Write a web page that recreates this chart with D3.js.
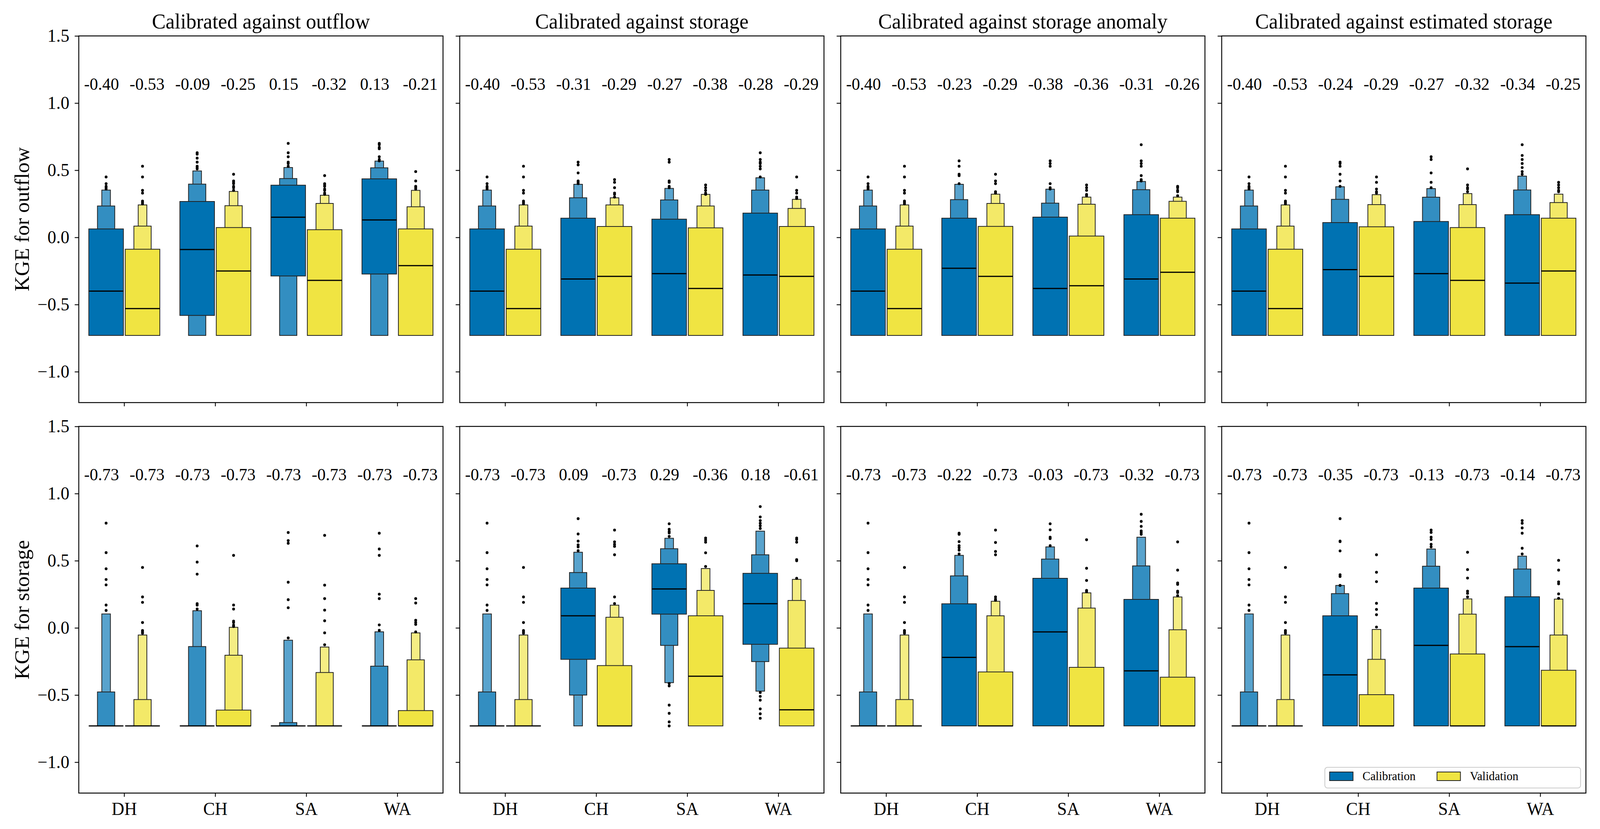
<!DOCTYPE html>
<html>
<head>
<meta charset="utf-8">
<script src="https://cdn.jsdelivr.net/npm/d3@7"></script>
<style>
  html, body { margin: 0; padding: 0; background: #fff; overflow: hidden; width: 100%; height: 100%; }
  #chart { width: 100vw; height: 100vh; }
  svg { display: block; font-family: "Liberation Serif", "Times New Roman", serif; }
</style>
</head>
<body>
<div id="chart"></div>
<script>
// Categories and labels
const regions = ["DH", "CH", "SA", "WA"];
const phases = ["Calibration", "Validation"];
const panelTitles = [
    "Calibrated against outflow",
    "Calibrated against storage",
    "Calibrated against storage anomaly",
    "Calibrated against estimated storage"
];
const rowLabels = ["KGE for outflow", "KGE for storage"];
const yTicks = [-1.0, -0.5, 0.0, 0.5, 1.0, 1.5];

// Letter values per box: [median, q25, q75, q12.5, q87.5, q6.25, q93.75]
// order: DH-cal, DH-val, CH-cal, CH-val, SA-cal, SA-val, WA-cal, WA-val

// KGE for outflow
const outflowVsOutflow = [
    [-0.40, -0.73, 0.063, -0.73, 0.234, -0.73, 0.352],
    [-0.53, -0.73, -0.088, -0.73, 0.084, -0.73, 0.242],
    [-0.09, -0.581, 0.267, -0.73, 0.397, -0.73, 0.495],
    [-0.25, -0.73, 0.073, -0.73, 0.236, -0.73, 0.342],
    [0.15, -0.287, 0.389, -0.73, 0.438, -0.73, 0.520],
    [-0.32, -0.73, 0.057, -0.73, 0.253, -0.73, 0.314],
    [0.13, -0.273, 0.436, -0.73, 0.518, -0.73, 0.568],
    [-0.21, -0.73, 0.063, -0.73, 0.228, -0.73, 0.350]
];
const outflowVsStorage = [
    [-0.40, -0.73, 0.063, -0.73, 0.234, -0.73, 0.352],
    [-0.53, -0.73, -0.088, -0.73, 0.084, -0.73, 0.242],
    [-0.31, -0.73, 0.143, -0.73, 0.295, -0.73, 0.395],
    [-0.29, -0.73, 0.081, -0.73, 0.242, -0.73, 0.295],
    [-0.27, -0.73, 0.136, -0.73, 0.279, -0.73, 0.365],
    [-0.38, -0.73, 0.071, -0.73, 0.234, -0.73, 0.320],
    [-0.28, -0.73, 0.181, -0.73, 0.352, -0.73, 0.444],
    [-0.29, -0.73, 0.081, -0.73, 0.216, -0.73, 0.283]
];
const outflowVsAnomaly = [
    [-0.40, -0.73, 0.063, -0.73, 0.234, -0.73, 0.352],
    [-0.53, -0.73, -0.088, -0.73, 0.084, -0.73, 0.242],
    [-0.23, -0.73, 0.143, -0.73, 0.281, -0.73, 0.395],
    [-0.29, -0.73, 0.082, -0.73, 0.253, -0.73, 0.322],
    [-0.38, -0.73, 0.151, -0.73, 0.255, -0.73, 0.359],
    [-0.36, -0.73, 0.010, -0.73, 0.247, -0.73, 0.300],
    [-0.31, -0.73, 0.169, -0.73, 0.355, -0.73, 0.416],
    [-0.26, -0.73, 0.143, -0.73, 0.269, -0.73, 0.300]
];
const outflowVsEstimated = [
    [-0.40, -0.73, 0.063, -0.73, 0.234, -0.73, 0.352],
    [-0.53, -0.73, -0.088, -0.73, 0.084, -0.73, 0.242],
    [-0.24, -0.73, 0.110, -0.73, 0.283, -0.73, 0.377],
    [-0.29, -0.73, 0.079, -0.73, 0.244, -0.73, 0.318],
    [-0.27, -0.73, 0.118, -0.73, 0.299, -0.73, 0.363],
    [-0.32, -0.73, 0.073, -0.73, 0.244, -0.73, 0.326],
    [-0.34, -0.73, 0.169, -0.73, 0.353, -0.73, 0.456],
    [-0.25, -0.73, 0.143, -0.73, 0.259, -0.73, 0.322]
];

// KGE for storage
const storageVsOutflow = [
    [-0.73, -0.73, -0.73, -0.73, -0.477, -0.73, 0.104],
    [-0.73, -0.73, -0.73, -0.73, -0.534, -0.73, -0.053],
    [-0.73, -0.73, -0.73, -0.73, -0.139, -0.73, 0.128],
    [-0.73, -0.73, -0.612, -0.73, -0.204, -0.73, 0.004],
    [-0.73, -0.73, -0.73, -0.73, -0.705, -0.73, -0.092],
    [-0.73, -0.73, -0.73, -0.73, -0.332, -0.73, -0.143],
    [-0.73, -0.73, -0.73, -0.73, -0.285, -0.73, -0.029],
    [-0.73, -0.73, -0.616, -0.73, -0.238, -0.73, -0.037]
];
const storageVsStorage = [
    [-0.73, -0.73, -0.73, -0.73, -0.477, -0.73, 0.104],
    [-0.73, -0.73, -0.73, -0.73, -0.534, -0.73, -0.053],
    [0.09, -0.234, 0.296, -0.50, 0.412, -0.73, 0.563],
    [-0.73, -0.73, -0.281, -0.73, 0.079, -0.73, 0.169],
    [0.29, 0.102, 0.477, -0.130, 0.589, -0.408, 0.667],
    [-0.36, -0.73, 0.090, -0.73, 0.279, -0.73, 0.442],
    [0.18, -0.122, 0.406, -0.251, 0.544, -0.471, 0.720],
    [-0.61, -0.73, -0.151, -0.73, 0.204, -0.73, 0.361]
];
const storageVsAnomaly = [
    [-0.73, -0.73, -0.73, -0.73, -0.477, -0.73, 0.104],
    [-0.73, -0.73, -0.73, -0.73, -0.534, -0.73, -0.053],
    [-0.22, -0.73, 0.179, -0.73, 0.387, -0.73, 0.540],
    [-0.73, -0.73, -0.328, -0.73, 0.090, -0.73, 0.198],
    [-0.03, -0.73, 0.369, -0.73, 0.512, -0.73, 0.603],
    [-0.73, -0.73, -0.294, -0.73, 0.147, -0.73, 0.261],
    [-0.32, -0.73, 0.212, -0.73, 0.461, -0.73, 0.675],
    [-0.73, -0.73, -0.367, -0.73, -0.014, -0.73, 0.230]
];
const storageVsEstimated = [
    [-0.73, -0.73, -0.73, -0.73, -0.477, -0.73, 0.104],
    [-0.73, -0.73, -0.73, -0.73, -0.534, -0.73, -0.053],
    [-0.35, -0.73, 0.090, -0.73, 0.255, -0.73, 0.316],
    [-0.73, -0.73, -0.497, -0.73, -0.234, -0.73, -0.012],
    [-0.13, -0.73, 0.296, -0.73, 0.459, -0.73, 0.587],
    [-0.73, -0.73, -0.194, -0.73, 0.102, -0.73, 0.216],
    [-0.14, -0.73, 0.232, -0.73, 0.438, -0.73, 0.534],
    [-0.73, -0.73, -0.316, -0.73, -0.053, -0.73, 0.214]
];

// Outliers beyond the last letter value, same box order
const outflowVsOutflowFliers = [
    [0.36, 0.37, 0.38, 0.40, 0.45],
    [0.25, 0.26, 0.27, 0.33, 0.35, 0.45, 0.53],
    [0.51, 0.52, 0.53, 0.56, 0.59, 0.62, 0.63],
    [0.35, 0.37, 0.38, 0.40, 0.41, 0.42, 0.47],
    [0.53, 0.55, 0.56, 0.60, 0.63, 0.70],
    [0.32, 0.33, 0.35, 0.36, 0.38, 0.39, 0.40, 0.46],
    [0.57, 0.58, 0.60, 0.66, 0.67, 0.69, 0.70],
    [0.36, 0.37, 0.38, 0.42, 0.49]
];
const outflowVsStorageFliers = [
    [0.36, 0.37, 0.38, 0.40, 0.45],
    [0.25, 0.26, 0.27, 0.33, 0.35, 0.45, 0.53],
    [0.40, 0.41, 0.42, 0.48, 0.54, 0.56],
    [0.30, 0.32, 0.33, 0.37, 0.41, 0.43],
    [0.37, 0.38, 0.41, 0.42, 0.56, 0.58],
    [0.32, 0.33, 0.35, 0.37, 0.39],
    [0.45, 0.51, 0.53, 0.55, 0.56, 0.58, 0.63],
    [0.29, 0.30, 0.33, 0.35, 0.45]
];
const outflowVsAnomalyFliers = [
    [0.36, 0.37, 0.38, 0.40, 0.45],
    [0.25, 0.26, 0.27, 0.33, 0.35, 0.45, 0.53],
    [0.40, 0.46, 0.47, 0.53, 0.57],
    [0.33, 0.34, 0.40, 0.42, 0.47],
    [0.36, 0.37, 0.40, 0.53, 0.55, 0.57],
    [0.31, 0.32, 0.35, 0.37, 0.39],
    [0.42, 0.43, 0.46, 0.53, 0.55, 0.57, 0.69],
    [0.31, 0.34, 0.35, 0.37, 0.38]
];
const outflowVsEstimatedFliers = [
    [0.36, 0.37, 0.38, 0.40, 0.45],
    [0.25, 0.26, 0.27, 0.33, 0.35, 0.45, 0.53],
    [0.38, 0.42, 0.47, 0.53, 0.55, 0.56],
    [0.33, 0.34, 0.36, 0.41, 0.45],
    [0.37, 0.41, 0.48, 0.58, 0.60],
    [0.34, 0.36, 0.37, 0.39, 0.51],
    [0.47, 0.49, 0.52, 0.55, 0.58, 0.61, 0.69],
    [0.34, 0.35, 0.37, 0.39, 0.41]
];
const storageDHFliersCal = [0.13, 0.17, 0.32, 0.36, 0.44, 0.56, 0.78];
const storageDHFliersVal = [-0.04, -0.03, -0.02, 0.04, 0.19, 0.23, 0.45];
const storageVsOutflowFliers = [
    storageDHFliersCal,
    storageDHFliersVal,
    [0.14, 0.17, 0.18, 0.40, 0.49, 0.61],
    [0.01, 0.02, 0.04, 0.05, 0.14, 0.17, 0.54],
    [-0.075, 0.15, 0.21, 0.34, 0.63, 0.65, 0.71],
    [-0.126, -0.037, 0.053, 0.132, 0.218, 0.318, 0.689],
    [-0.018, 0.022, 0.218, 0.251, 0.54, 0.587, 0.705],
    [-0.03, 0.026, 0.041, 0.057, 0.185, 0.218]
];
const storageVsStorageFliers = [
    storageDHFliersCal,
    storageDHFliersVal,
    [0.575, 0.603, 0.618, 0.646, 0.699, 0.813],
    [0.181, 0.23, 0.544, 0.607, 0.622, 0.64, 0.728],
    [0.681, 0.707, 0.718, 0.734, 0.775, -0.414, -0.432, -0.575, -0.636, -0.70, -0.73],
    [0.457, 0.559, 0.638, 0.654, 0.669],
    [0.74, 0.76, 0.779, 0.799, 0.826, 0.903, -0.481, -0.51, -0.538, -0.603, -0.64, -0.673],
    [0.369, 0.50, 0.508, 0.638, 0.658, 0.669]
];
const storageVsAnomalyFliers = [
    storageDHFliersCal,
    storageDHFliersVal,
    [0.55, 0.579, 0.597, 0.612, 0.642, 0.697, 0.705],
    [0.205, 0.214, 0.23, 0.544, 0.569, 0.636, 0.728],
    [0.612, 0.665, 0.675, 0.73, 0.775],
    [0.269, 0.279, 0.353, 0.444, 0.656],
    [0.697, 0.71, 0.722, 0.756, 0.793, 0.846],
    [0.24, 0.263, 0.273, 0.324, 0.334, 0.43, 0.64]
];
const storageVsEstimatedFliers = [
    storageDHFliersCal,
    storageDHFliersVal,
    [0.316, 0.383, 0.395, 0.573, 0.642, 0.646, 0.813],
    [0.006, 0.098, 0.137, 0.183, 0.344, 0.414, 0.544],
    [0.603, 0.622, 0.658, 0.675, 0.711, 0.728],
    [0.23, 0.257, 0.273, 0.371, 0.434, 0.563],
    [0.55, 0.593, 0.705, 0.744, 0.779, 0.799],
    [0.22, 0.253, 0.328, 0.342, 0.43, 0.503]
];

const panelData = [
    [outflowVsOutflow, outflowVsStorage, outflowVsAnomaly, outflowVsEstimated],
    [storageVsOutflow, storageVsStorage, storageVsAnomaly, storageVsEstimated]
];
const panelFliers = [
    [outflowVsOutflowFliers, outflowVsStorageFliers, outflowVsAnomalyFliers, outflowVsEstimatedFliers],
    [storageVsOutflowFliers, storageVsStorageFliers, storageVsAnomalyFliers, storageVsEstimatedFliers]
];

// Layout (drawn in a 4204 x 2123 coordinate system, scaled to the window)
const W = 4204, H = 2123;
const pLeft = 207, pTop = 92, pW = 957, pH = 939, colStep = 1001, rowStep = 1000;
const font = '"Liberation Serif", "Times New Roman", serif';

// Colours: main colour per phase, outer letter values blended toward white
const baseColors = ["#0072B2", "#F0E442"];
const levelColor = (c, k) => d3.interpolateRgb(c, "#ffffff")([0, 0.2, 0.35][k]);

const svg = d3.select("#chart")
    .append("svg")
    .attr("viewBox", `0 0 ${W} ${H}`)
    .attr("preserveAspectRatio", "none")
    .attr("width", "100%")
    .attr("height", "100%");

const y = d3.scaleLinear().domain([-1.23, 1.5]).range([pH, 0]);
const x = d3.scaleBand().domain(regions).range([0, pW]).padding(0);
const bw = x.bandwidth();
const boxW = 0.38 * bw;
const yFmt = d3.format(".1f");

function rectPath(cx, w, lo, hi) {
    const x0 = cx - w / 2, y0 = y(hi), y1 = y(lo);
    return `M${x0},${y0}H${x0 + w}V${y1}H${x0}Z`;
}

panelData.forEach((row, r) => {
    row.forEach((boxes, c) => {
        const g = svg.append("g")
            .attr("transform", `translate(${pLeft + c * colStep},${pTop + r * rowStep})`);

        // y axis ticks
        const ya = g.append("g")
            .call(d3.axisLeft(y).tickValues(yTicks).tickSize(10.7).tickPadding(14)
                .tickFormat(c === 0 ? yFmt : ""));
        // x axis ticks
        const xa = g.append("g")
            .attr("transform", `translate(0,${pH})`)
            .call(d3.axisBottom(x).tickSize(9.5).tickPadding(14)
                .tickFormat(r === 1 ? d => d : ""));
        [ya, xa].forEach(a => {
            a.select(".domain").remove();
            a.selectAll(".tick line").attr("stroke", "#000").attr("stroke-width", 2.2);
            a.selectAll(".tick text").attr("fill", "#000")
                .style("font-family", font).style("font-size", "46px");
        });

        boxes.forEach((v, i) => {
            const region = regions[Math.floor(i / 2)];
            const p = i % 2;
            const cx = x(region) + bw / 2 + (p === 0 ? -0.2 : 0.2) * bw;

            // outer levels first so inner boxes sit on top
            [2, 1, 0].forEach(k => {
                g.append("path")
                    .attr("d", rectPath(cx, boxW / Math.pow(2, k), v[1 + 2 * k], v[2 + 2 * k]))
                    .attr("fill", levelColor(baseColors[p], k))
                    .attr("stroke", "#222")
                    .attr("stroke-width", 2);
            });

            // median
            g.append("line")
                .attr("x1", cx - boxW / 2).attr("x2", cx + boxW / 2)
                .attr("y1", y(v[0])).attr("y2", y(v[0]))
                .attr("stroke", "#000").attr("stroke-width", 3);

            // outliers
            g.selectAll(null)
                .data(panelFliers[r][c][i])
                .enter()
                .append("circle")
                .attr("cx", cx)
                .attr("cy", d => y(d))
                .attr("r", 3.7)
                .attr("fill", "#000");

            // median annotation
            g.append("text")
                .attr("x", x(region) + bw / 2 + (p === 0 ? -0.25 : 0.25) * bw)
                .attr("y", y(1.1))
                .attr("text-anchor", "middle")
                .style("font-family", font)
                .style("font-size", "44px")
                .text(v[0].toFixed(2));
        });

        // frame
        g.append("rect")
            .attr("width", pW).attr("height", pH)
            .attr("fill", "none").attr("stroke", "#000").attr("stroke-width", 2.4);

        if (r === 0) {
            g.append("text")
                .attr("x", pW / 2).attr("y", -19)
                .attr("text-anchor", "middle")
                .style("font-family", font).style("font-size", "54px")
                .text(panelTitles[c]);
        }
        if (c === 0) {
            g.append("text")
                .attr("transform", `translate(${76 - pLeft},${pH / 2}) rotate(-90)`)
                .attr("text-anchor", "middle")
                .style("font-family", font).style("font-size", "54px")
                .text(rowLabels[r]);
        }

        // legend in the last panel
        if (r === 1 && c === 3) {
            const lg = g.append("g").attr("transform", `translate(${pW - 14 - 672},${pH - 13 - 53})`);
            lg.append("rect")
                .attr("width", 672).attr("height", 53).attr("rx", 7)
                .attr("fill", "#fff").attr("fill-opacity", 0.8)
                .attr("stroke", "#cccccc").attr("stroke-width", 2.2);
            phases.forEach((name, j) => {
                const ox = 12.5 + j * 282.2;
                lg.append("rect")
                    .attr("x", ox).attr("y", 12).attr("width", 61.6).attr("height", 22)
                    .attr("fill", baseColors[j]).attr("stroke", "#222").attr("stroke-width", 2);
                lg.append("text")
                    .attr("x", ox + 86.5).attr("y", 33)
                    .style("font-family", font).style("font-size", "31px")
                    .text(name);
            });
        }
    });
});
</script>
</body>
</html>
